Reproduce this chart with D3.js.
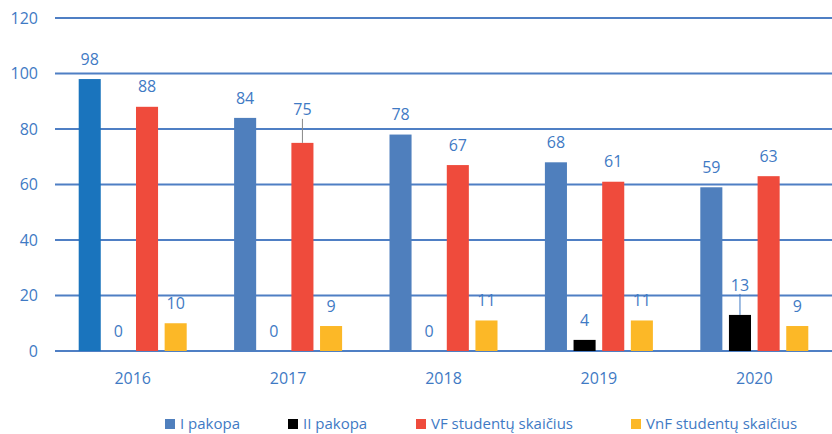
<!DOCTYPE html>
<html>
<head>
<meta charset="utf-8">
<script src="https://cdn.jsdelivr.net/npm/d3@7"></script>
<style>
  body { margin: 0; background: #fff; }
  text { font-family: "Open Sans", sans-serif; }
</style>
</head>
<body>
<div id="chart"></div>
<script>
var years = ["2016", "2017", "2018", "2019", "2020"];
var seriesNames = ["I pakopa", "II pakopa", "VF studentų skaičius", "VnF studentų skaičius"];
var iPakopa = [98, 84, 78, 68, 59];
var iiPakopa = [0, 0, 0, 4, 13];
var vfStudents = [88, 75, 67, 61, 63];
var vnfStudents = [10, 9, 11, 11, 9];
var yTicks = [0, 20, 40, 60, 80, 100, 120];
var colors = ["#4f7fbd", "#000000", "#ef4b3c", "#fcb827"];

var series = [iPakopa, iiPakopa, vfStudents, vnfStudents];

var w = 832, h = 434;
var margin = { top: 18, bottom: 83, left: 55, right: 0 };
var textColor = "#3f7ac4";

var svg = d3.select("#chart").append("svg")
    .attr("width", w)
    .attr("height", h);

var x = d3.scaleBand()
    .domain(years)
    .range([margin.left, w - margin.right]);

var inner = d3.scaleBand()
    .domain(d3.range(series.length))
    .range([x.bandwidth() / 2 - 54, x.bandwidth() / 2 + 54])
    .paddingInner(0.23);

var y = d3.scaleLinear()
    .domain([0, 120])
    .range([h - margin.bottom, margin.top]);

// grid lines
svg.append("g")
    .selectAll("line")
    .data(yTicks)
    .enter()
    .append("line")
    .attr("x1", margin.left)
    .attr("x2", w)
    .attr("y1", function(d) { return y(d); })
    .attr("y2", function(d) { return y(d); })
    .attr("stroke", "#4f7fc4")
    .attr("stroke-width", 2);

// y tick labels
svg.append("g")
    .selectAll("text")
    .data(yTicks)
    .enter()
    .append("text")
    .attr("x", 38)
    .attr("y", function(d) { return y(d); })
    .attr("dy", "0.35em")
    .attr("text-anchor", "end")
    .attr("fill", textColor)
    .style("font-size", "16px")
    .text(function(d) { return d; });

// year labels
svg.append("g")
    .selectAll("text")
    .data(years)
    .enter()
    .append("text")
    .attr("x", function(d) { return x(d) + x.bandwidth() / 2; })
    .attr("y", y(0) + 27)
    .attr("dy", "0.35em")
    .attr("text-anchor", "middle")
    .attr("fill", textColor)
    .style("font-size", "16px")
    .text(function(d) { return d; });

// flatten for bars
var bars = [];
series.forEach(function(vals, s) {
    vals.forEach(function(v, i) {
        bars.push({ s: s, year: years[i], i: i, value: v });
    });
});

// labels that were moved up with a leader line
var lifted = { "2-1": 13, "1-4": 10 };

svg.append("g")
    .selectAll("rect")
    .data(bars.filter(function(d) { return d.value > 0; }))
    .enter()
    .append("rect")
    .attr("x", function(d) { return x(d.year) + inner(d.s); })
    .attr("width", inner.bandwidth())
    .attr("y", function(d) { return y(d.value); })
    .attr("height", function(d) { return y(0) - y(d.value); })
    .attr("fill", function(d) {
        if (d.s === 0 && d.i === 0) return "#1a74bd";
        return colors[d.s];
    });

// leader lines
svg.append("g")
    .selectAll("line")
    .data(bars.filter(function(d) { return lifted[d.s + "-" + d.i]; }))
    .enter()
    .append("line")
    .attr("x1", function(d) { return x(d.year) + inner(d.s) + inner.bandwidth() / 2; })
    .attr("x2", function(d) { return x(d.year) + inner(d.s) + inner.bandwidth() / 2; })
    .attr("y1", function(d) { return y(d.value) - lifted[d.s + "-" + d.i] - 11; })
    .attr("y2", function(d) { return y(d.value); })
    .attr("stroke", function(d) { return d.s === 1 ? textColor : "#888"; })
    .attr("stroke-width", 1);

svg.append("g")
    .selectAll("text")
    .data(bars)
    .enter()
    .append("text")
    .attr("x", function(d) { return x(d.year) + inner(d.s) + inner.bandwidth() / 2; })
    .attr("y", function(d) {
        var lift = lifted[d.s + "-" + d.i] || 0;
        return y(d.value) - 20 - lift;
    })
    .attr("dy", "0.35em")
    .attr("text-anchor", "middle")
    .attr("fill", textColor)
    .style("font-size", "16px")
    .text(function(d) { return d.value; });

// legend
var legendX = [165, 288, 416, 631];
var legend = svg.append("g")
    .selectAll("g")
    .data(seriesNames)
    .enter()
    .append("g")
    .attr("transform", function(d, i) { return "translate(" + legendX[i] + ",424)"; });

legend.append("rect")
    .attr("x", 0)
    .attr("y", -5)
    .attr("width", 10)
    .attr("height", 10)
    .attr("fill", function(d, i) { return colors[i]; });

legend.append("text")
    .attr("x", 15)
    .attr("y", 0)
    .attr("dy", "0.35em")
    .attr("fill", textColor)
    .style("font-size", "15px")
    .text(function(d) { return d; });
</script>
</body>
</html>
